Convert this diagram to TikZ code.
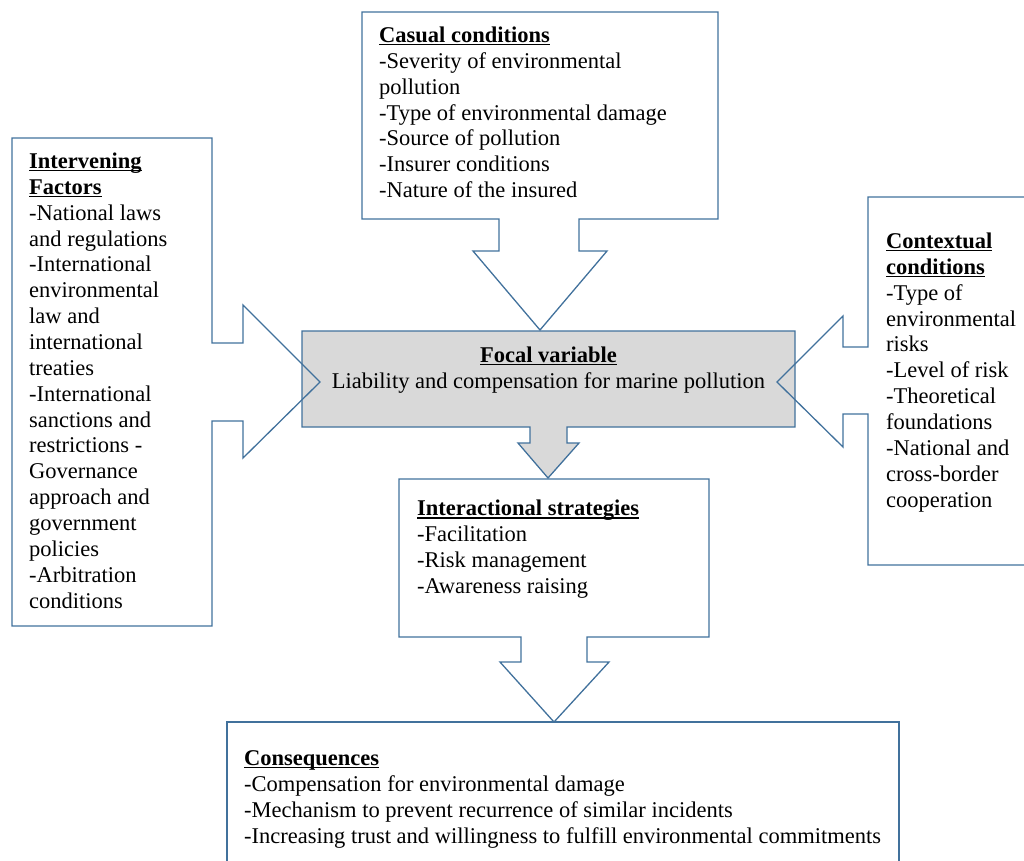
\documentclass[tikz,border=0pt]{standalone}
\usepackage{fontspec}
\setmainfont{Liberation Serif}
\definecolor{bord}{RGB}{65,113,156}
\definecolor{focal}{RGB}{217,217,217}
\newcommand\ttl[1]{\setbox0\hbox{\textbf{#1}}\rlap{\rule[-2.6pt]{\wd0}{1.2pt}}\box0}
\tikzset{
  callout/.style={draw=bord, line width=1.3pt, line join=miter},
  txt/.style={anchor=base west, align=left, inner sep=0pt, font=\fontsize{22.5}{25.85}\selectfont},
  ctxt/.style={anchor=base, align=center, inner sep=0pt, font=\fontsize{22.5}{25.85}\selectfont}
}
\begin{document}
\begin{tikzpicture}[x=1pt,y=-1pt]
\useasboundingbox (0,0) rectangle (1024,860);
\clip (0,0) rectangle (1024,860);

% focal box with down arrow
\draw[callout, fill=focal] (302,331) -- (795,331) -- (795,427) -- (567,427) -- (567,443) -- (579,443) -- (548,478) -- (518,443) -- (530,443) -- (530,427) -- (302,427) -- cycle;

% top callout
\draw[callout] (362,12) -- (718,12) -- (718,219) -- (579,219) -- (579,251) -- (607,251) -- (540,330) -- (473,251) -- (499,251) -- (499,219) -- (362,219) -- cycle;

% left callout
\draw[callout] (12,138) -- (212,138) -- (212,343) -- (243,343) -- (243,305) -- (320,382) -- (243,458) -- (243,421) -- (212,421) -- (212,626) -- (12,626) -- cycle;

% right callout
\draw[callout] (868,197) -- (1040,197) -- (1040,565) -- (868,565) -- (868,414) -- (843,414) -- (843,447) -- (777,382) -- (843,316) -- (843,347) -- (868,347) -- cycle;

% interactional callout
\draw[callout] (399,479) -- (709,479) -- (709,637) -- (587,637) -- (587,662) -- (609,662) -- (554,722) -- (500,662) -- (521,662) -- (521,637) -- (399,637) -- cycle;

% consequences box
\draw[callout] (227,722) -- (899,722) -- (899,880) -- (227,880) -- cycle;

% texts (anchor = baseline of the last line)
\node[txt] (casual) at (379,197.6) {\ttl{Casual conditions}\\-Severity of environmental\\pollution\\-Type of environmental damage\\-Source of pollution\\-Insurer conditions\\-Nature of the insured};

\node[txt] (interv) at (29,608) {\ttl{Intervening}\\\ttl{Factors}\\-National laws\\and regulations\\-International\\environmental\\law and\\international\\treaties\\-International\\sanctions and\\restrictions -\\Governance\\approach and\\government\\policies\\-Arbitration\\conditions};

\node[txt] (context) at (886,507) {\ttl{Contextual}\\\ttl{conditions}\\-Type of\\environmental\\risks\\-Level of risk\\-Theoretical\\foundations\\-National and\\cross-border\\cooperation};

\node[ctxt] (focalt) at (548.5,388.2) {\ttl{Focal variable}\\Liability and compensation for marine pollution};

\node[txt] (inter) at (417,593.5) {\ttl{Interactional strategies}\\-Facilitation\\-Risk management\\-Awareness raising};

\node[txt] (conseq) at (244,843) {\ttl{Consequences}\\-Compensation for environmental damage\\-Mechanism to prevent recurrence of similar incidents\\-Increasing trust and willingness to fulfill environmental commitments};
\end{tikzpicture}
\end{document}
